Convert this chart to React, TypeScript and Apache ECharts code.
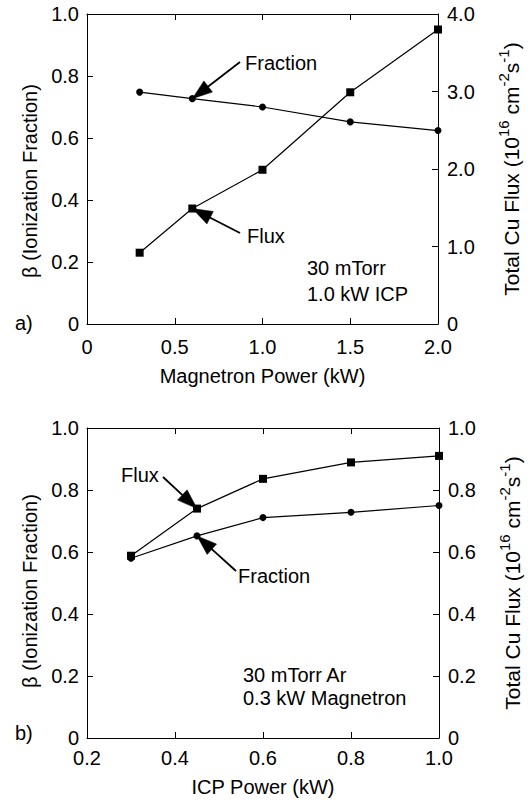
import React, { useEffect, useRef } from 'react';
import * as echarts from 'echarts';

// Panel a) : Magnetron power sweep (30 mTorr, 1.0 kW ICP)
const magnetronPower = [0.3, 0.6, 1.0, 1.5, 2.0];
const fractionA = [0.748, 0.727, 0.7, 0.652, 0.624];
const fluxA = [0.92, 1.49, 1.99, 2.99, 3.8];

// Panel b) : ICP power sweep (30 mTorr Ar, 0.3 kW Magnetron)
const icpPower = [0.3, 0.45, 0.6, 0.8, 1.0];
const fractionB = [0.58, 0.652, 0.711, 0.728, 0.75];
const fluxB = [0.588, 0.74, 0.836, 0.889, 0.91];

const FONT = '"Liberation Sans", Arial, Helvetica, sans-serif';
const INK = '#000';

const fmt = (v: number) => (v === 0 ? '0' : v.toFixed(1));

const axisLine = { show: true, onZero: false, lineStyle: { color: INK, width: 1 } };
const axisTick = { show: true, inside: true, length: 6, lineStyle: { color: INK, width: 1 } };
const lbl = (margin: number) => ({ show: true, color: INK, fontSize: 20, fontFamily: FONT, margin, formatter: fmt });
const noLbl = { show: false };

const rightName =
  '{n|Total Cu Flux (10}{s|16}{n| cm}{s|-2}{n|s}{s|-1}{n|)}';
const rightNameStyle = () => ({
  color: INK,
  fontFamily: FONT,
  rich: {
    n: { fontSize: 21, fontFamily: FONT, color: INK },
    s: { fontSize: 15, fontFamily: FONT, color: INK, padding: [0, 0, 15, 0] },
  },
});
const leftNameStyle = (shift: number) => ({
  fontSize: 20, fontFamily: FONT, color: INK, padding: [0, shift, 0, 0],
});

function zip(xs: number[], ys: number[]) {
  return xs.map((x, i) => [x, ys[i]]);
}

export default function App() {
  const ref = useRef<HTMLDivElement>(null);
  useEffect(() => {
    if (!ref.current) return;
    const chart = echarts.init(ref.current, undefined, { renderer: 'svg' });

    const lineStyle = { color: INK, width: 1.2 };
    const option: any = {
      animation: false,
      backgroundColor: '#fff',
      textStyle: { fontFamily: FONT, color: INK },
      grid: [
        { left: 87, right: 94, top: 14, bottom: 478 },
        { left: 87, right: 93, top: 428, bottom: 64 },
      ],
      xAxis: [
        {
          gridIndex: 0, type: 'value', position: 'bottom', min: 0, max: 2, interval: 0.5,
          axisLine, axisTick, axisLabel: lbl(13), splitLine: { show: false },
          name: 'Magnetron Power (kW)', nameLocation: 'middle', nameGap: 42,
          nameTextStyle: { fontSize: 20, fontFamily: FONT, color: INK },
        },
        {
          gridIndex: 0, type: 'value', position: 'top', min: 0, max: 2, interval: 0.5,
          axisLine, axisTick, axisLabel: noLbl, splitLine: { show: false },
        },
        {
          gridIndex: 1, type: 'value', position: 'bottom', min: 0.2, max: 1.0, interval: 0.2,
          axisLine, axisTick, axisLabel: lbl(10), splitLine: { show: false },
          name: 'ICP Power (kW)', nameLocation: 'middle', nameGap: 39,
          nameTextStyle: { fontSize: 20, fontFamily: FONT, color: INK },
        },
        {
          gridIndex: 1, type: 'value', position: 'top', min: 0.2, max: 1.0, interval: 0.2,
          axisLine, axisTick, axisLabel: noLbl, splitLine: { show: false },
        },
      ],
      yAxis: [
        {
          gridIndex: 0, type: 'value', position: 'left', min: 0, max: 1, interval: 0.2,
          axisLine, axisTick, axisLabel: lbl(8), splitLine: { show: false },
          name: 'β (Ionization Fraction)', nameLocation: 'middle', nameGap: 43, nameRotate: 90,
          nameTextStyle: leftNameStyle(24),
        },
        {
          gridIndex: 0, type: 'value', position: 'right', min: 0, max: 4, interval: 1,
          axisLine, axisTick, axisLabel: lbl(9), splitLine: { show: false },
          name: rightName, nameLocation: 'middle', nameGap: 58, nameRotate: 90,
          nameTextStyle: rightNameStyle(),
        },
        {
          gridIndex: 1, type: 'value', position: 'left', min: 0, max: 1, interval: 0.2,
          axisLine, axisTick, axisLabel: lbl(8), splitLine: { show: false },
          name: 'β (Ionization Fraction)', nameLocation: 'middle', nameGap: 43, nameRotate: 90,
          nameTextStyle: leftNameStyle(16),
        },
        {
          gridIndex: 1, type: 'value', position: 'right', min: 0, max: 1, interval: 0.2,
          axisLine, axisTick, axisLabel: lbl(9), splitLine: { show: false },
          name: rightName, nameLocation: 'middle', nameGap: 58, nameRotate: 90,
          nameTextStyle: rightNameStyle(),
        },
      ],
      series: [
        {
          name: 'Fraction a', type: 'line', xAxisIndex: 0, yAxisIndex: 0,
          data: zip(magnetronPower, fractionA), symbol: 'circle', symbolSize: 7,
          lineStyle, itemStyle: { color: INK }, z: 3,
        },
        {
          name: 'Flux a', type: 'line', xAxisIndex: 0, yAxisIndex: 1,
          data: zip(magnetronPower, fluxA), symbol: 'rect', symbolSize: 8,
          lineStyle, itemStyle: { color: INK }, z: 3,
        },
        {
          name: 'Fraction b', type: 'line', xAxisIndex: 2, yAxisIndex: 2,
          data: zip(icpPower, fractionB), symbol: 'circle', symbolSize: 7,
          lineStyle, itemStyle: { color: INK }, z: 3,
        },
        {
          name: 'Flux b', type: 'line', xAxisIndex: 2, yAxisIndex: 3,
          data: zip(icpPower, fluxB), symbol: 'rect', symbolSize: 8,
          lineStyle, itemStyle: { color: INK }, z: 3,
        },
      ],
    };
    chart.setOption(option);

    const arrow = (tail: number[], tip: number[]) => {
      const dx = tip[0] - tail[0];
      const dy = tip[1] - tail[1];
      const len = Math.sqrt(dx * dx + dy * dy);
      const ux = dx / len, uy = dy / len;
      const L = 20, W = 7;
      const bx = tip[0] - ux * L, by = tip[1] - uy * L;
      const nx = -uy, ny = ux;
      return [
        {
          type: 'line', silent: true, z: 10,
          shape: { x1: tail[0], y1: tail[1], x2: bx + ux * 2, y2: by + uy * 2 },
          style: { stroke: INK, lineWidth: 1.8 },
        },
        {
          type: 'polygon', silent: true, z: 10,
          shape: { points: [[tip[0], tip[1]], [bx + nx * W, by + ny * W], [bx - nx * W, by - ny * W]] },
          style: { fill: INK, stroke: INK, lineWidth: 0.5 },
        },
      ];
    };
    const txt = (text: string, x: number, y: number, align: string = 'left') => ({
      type: 'text', silent: true, z: 10, x, y,
      style: { text, fill: INK, fontSize: 20, fontFamily: FONT, align, verticalAlign: 'middle' },
    });

    const pA_frac = chart.convertToPixel({ seriesIndex: 0 }, [magnetronPower[1], fractionA[1]]) as number[];
    const pA_flux = chart.convertToPixel({ seriesIndex: 1 }, [magnetronPower[1], fluxA[1]]) as number[];
    const pB_frac = chart.convertToPixel({ seriesIndex: 2 }, [icpPower[1], fractionB[1]]) as number[];
    const pB_flux = chart.convertToPixel({ seriesIndex: 3 }, [icpPower[1], fluxB[1]]) as number[];

    const graphic: any[] = [
      ...arrow([240, 62], pA_frac),
      txt('Fraction', 245, 63),
      ...arrow([240, 233], pA_flux),
      txt('Flux', 247, 236),
      txt('30 mTorr', 307, 268),
      txt('1.0 kW ICP', 307, 294),
      txt('a)', 15, 323),
      ...arrow([163, 477], pB_flux),
      txt('Flux', 121, 475),
      ...arrow([236, 571], pB_frac),
      txt('Fraction', 238, 576),
      txt('30 mTorr Ar', 243, 675),
      txt('0.3 kW Magnetron', 243, 698),
      txt('b)', 15, 733),
    ];
    chart.setOption({ graphic });

    return () => chart.dispose();
  }, []);

  return (
    <div
      ref={ref}
      style={{ position: 'fixed', left: 0, top: 0, width: 532, height: 802, background: '#fff' }}
    />
  );
}
